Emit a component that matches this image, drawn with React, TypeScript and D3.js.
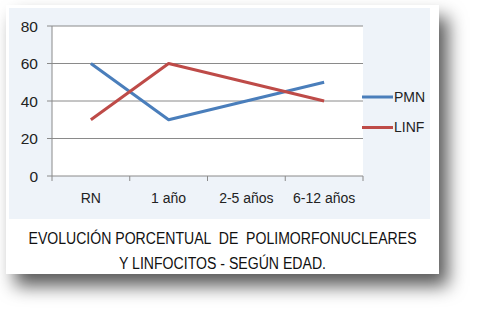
import React from "react";
import * as d3 from "d3";

const categories = ["RN", "1 año", "2-5 años", "6-12 años"];
const pmnValues = [60, 30, 40, 50];
const linfValues = [30, 60, 50, 40];
const yTicks = [0, 20, 40, 60, 80];
const seriesNames = ["PMN", "LINF"];
const titleLines = [
  "EVOLUCIÓN PORCENTUAL  DE  POLIMORFONUCLEARES",
  "Y LINFOCITOS - SEGÚN EDAD.",
];

const COLORS = ["#4a7ebb", "#be4b48"];
const FONT = "'Liberation Sans Narrow', 'Arial Narrow', 'Liberation Sans', Arial, sans-serif";

export default function App() {
  const W = 477, H = 314;
  const plotL = 52, plotR = 363, plotT = 26, plotB = 176;
  const x = d3.scaleBand<string>().domain(categories).range([plotL, plotR]);
  const y = d3.scaleLinear().domain([0, 80]).range([plotB, plotT]);
  const line = d3
    .line<number>()
    .x((_, i) => (x(categories[i]) as number) + x.bandwidth() / 2)
    .y((d) => y(d));
  const series = [pmnValues, linfValues];
  const tickXs = [...categories.map((c) => x(c) as number), plotR];
  const sx = 0.8;
  const titleWidths = [388, 207];

  return (
    <svg
      width={W}
      height={H}
      style={{ position: "absolute", left: 0, top: 0, background: "#fff" }}
    >
      <defs>
        <filter id="sh" x="-10%" y="-10%" width="130%" height="140%">
          <feDropShadow dx="9" dy="12" stdDeviation="9" floodColor="#000" floodOpacity="0.65" />
        </filter>
      </defs>
      <rect x={6} y={5} width={433} height={269} fill="#fff" filter="url(#sh)" />
      <rect x={9} y={8} width={421} height={211} fill="#eef3f9" />
      <rect x={plotL} y={plotT} width={plotR - plotL} height={plotB - plotT} fill="#fff" />
      {yTicks.map((t) => (
        <g key={t}>
          <line x1={plotL - 5} x2={plotR} y1={y(t)} y2={y(t)} stroke="#8a8a8a" strokeWidth={1} />
          <text
            x={plotL - 14}
            y={y(t)}
            dy="0.36em"
            textAnchor="end"
            fontFamily={FONT}
            fontSize={15.5}
            fill="#222"
          >
            {t}
          </text>
        </g>
      ))}
      <line x1={plotL} x2={plotL} y1={plotT} y2={plotB} stroke="#8a8a8a" />
      {tickXs.map((tx, i) => (
        <line key={i} x1={tx} x2={tx} y1={plotB} y2={plotB + 5} stroke="#8a8a8a" />
      ))}
      {categories.map((c) => (
        <text
          key={c}
          x={(x(c) as number) + x.bandwidth() / 2}
          y={203}
          textAnchor="middle"
          fontFamily={FONT}
          fontSize={14}
          fill="#222"
        >
          {c}
        </text>
      ))}
      {series.map((s, i) => (
        <path
          key={i}
          d={line(s) || ""}
          fill="none"
          stroke={COLORS[i]}
          strokeWidth={3}
          strokeLinejoin="round"
        />
      ))}
      {seriesNames.map((n, i) => (
        <g key={n}>
          <line
            x1={362}
            x2={393}
            y1={97 + i * 30.5}
            y2={97 + i * 30.5}
            stroke={COLORS[i]}
            strokeWidth={3}
          />
          <text
            x={394}
            y={97 + i * 30.5}
            dy="0.35em"
            fontFamily={FONT}
            fontSize={14}
            fill="#222"
          >
            {n}
          </text>
        </g>
      ))}
      {titleLines.map((t, i) => (
        <text
          key={i}
          transform={`translate(222.5, ${244 + i * 25}) scale(${sx}, 1)`}
          x={0}
          y={0}
          textAnchor="middle"
          fontFamily={FONT}
          fontSize={17}
          fill="#111"
          style={{ whiteSpace: "pre" }}
          textLength={titleWidths[i] / sx}
          lengthAdjust="spacingAndGlyphs"
        >
          {t}
        </text>
      ))}
    </svg>
  );
}
